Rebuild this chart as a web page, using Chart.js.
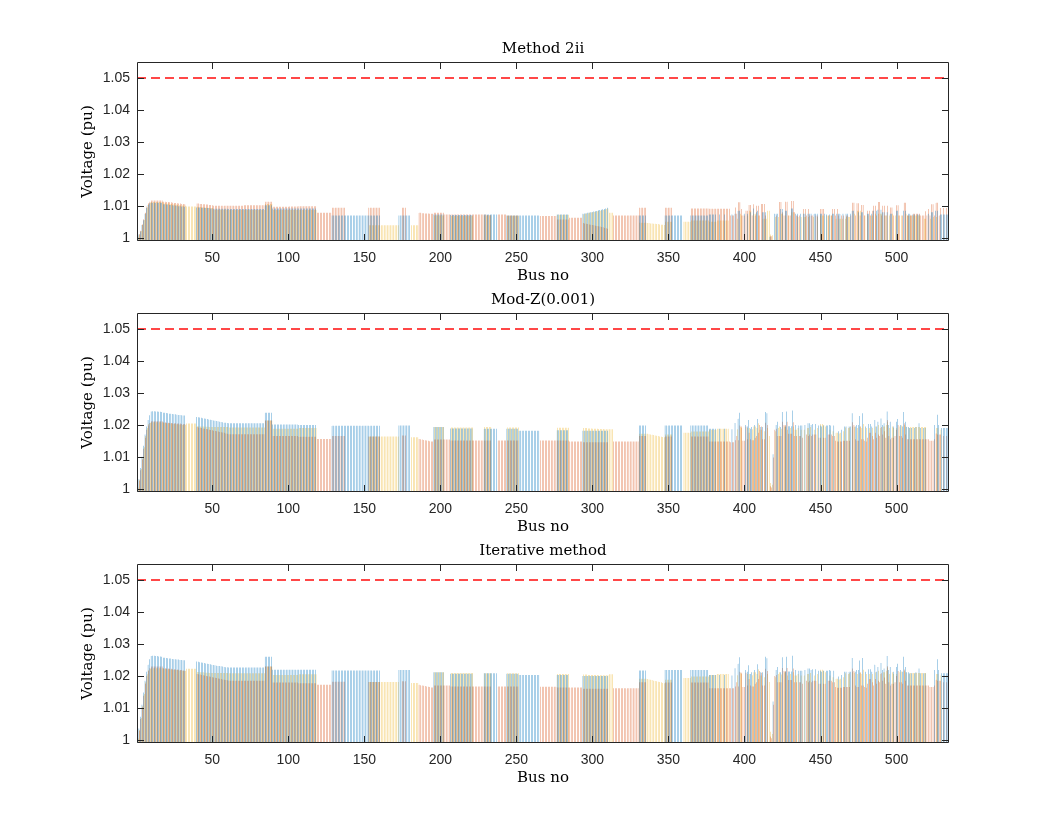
<!DOCTYPE html>
<html>
<head>
<meta charset="utf-8">
<script src="https://cdn.jsdelivr.net/npm/chart.js@4.4.1/dist/chart.umd.min.js"></script>
<style>
body{margin:0;background:#fff;width:1050px;height:835px;position:relative;overflow:hidden}
canvas{position:absolute;left:0}
</style>
</head>
<body>
<canvas id="P1" width="1050" height="270" style="top:22px"></canvas>
<canvas id="P2" width="1050" height="270" style="top:273px"></canvas>
<canvas id="P3" width="1050" height="270" style="top:524px"></canvas>
<script>
//												Data
const TITLES=['Method 2ii','Mod-Z(0.001)','Iterative method']
const X_TICKS=[50,100,150,200,250,300,350,400,450,500]
const Y_TICKS=[1,1.01,1.02,1.03,1.04,1.05]
const X_LIMITS=[0.5,534.5]
const Y_LIMITS=[0.999,1.055]
const V_LIMIT=1.05

// Method 2ii, phases a (blue) b (orange) c (yellow), one value per bus, 0 = phase absent
const M2_A=[
1.0003,1.0010,1.0020,1.0040,1.0055,1.0075,1.0093,1.0103,1.0108,1.0110,
1.0110,1.0110,1.0110,1.0110,1.0110,1.0110,1.0110,1.0105,1.0105,1.0104,
1.0104,1.0103,1.0103,1.0102,1.0101,1.0101,1.0100,1.0099,1.0099,1.0098,
1.0098,1.0097,0,0,0,0,0,0,0,1.0095,
1.0095,1.0095,1.0094,1.0094,1.0094,1.0093,1.0093,1.0093,1.0092,1.0092,
1.0091,1.0091,1.0091,1.0091,1.0091,1.0091,1.0091,1.0091,1.0091,1.0091,
1.0090,1.0090,1.0090,1.0090,1.0090,1.0090,1.0090,1.0090,1.0090,1.0090,
1.0090,1.0090,1.0090,1.0090,1.0090,1.0090,1.0090,1.0090,1.0090,1.0090,
1.0090,1.0090,1.0090,1.0090,1.0102,1.0102,1.0102,1.0102,1.0102,1.0092,
1.0092,1.0092,1.0092,1.0092,1.0092,1.0092,1.0092,1.0092,1.0092,1.0092,
1.0092,1.0092,1.0092,1.0092,1.0092,1.0092,1.0092,1.0092,1.0092,1.0092,
1.0092,1.0092,1.0092,1.0092,1.0092,1.0092,1.0092,1.0092,0,0,
0,0,0,0,0,0,0,0,1.0070,1.0070,
1.0070,1.0070,1.0070,1.0070,1.0070,1.0070,1.0070,1.0070,1.0070,1.0070,
1.0070,1.0070,1.0070,1.0070,1.0070,1.0070,1.0070,1.0070,1.0070,1.0070,
1.0070,1.0070,1.0070,1.0070,1.0070,1.0070,1.0070,1.0070,1.0070,1.0070,
0,0,0,0,0,0,0,0,0,0,
0,0,1.0070,1.0070,1.0070,1.0070,1.0070,1.0070,1.0070,1.0070,
0,0,0,0,0,0,0,0,0,0,
0,0,0,0,0,1.0073,1.0073,1.0073,1.0073,1.0073,
1.0073,1.0073,0,0,0,0,1.0071,1.0071,1.0071,1.0071,
1.0071,1.0071,1.0071,1.0071,1.0071,1.0071,1.0071,1.0071,1.0071,1.0071,
1.0071,0,0,0,0,0,0,0,1.0073,1.0073,
1.0073,1.0073,1.0073,1.0073,1.0073,1.0073,1.0073,0,0,0,
0,0,0,1.0070,1.0070,1.0070,1.0070,1.0070,1.0070,1.0070,
1.0070,1.0070,1.0070,1.0070,1.0070,1.0070,1.0070,1.0070,1.0070,1.0070,
1.0070,1.0070,1.0070,1.0070,1.0070,0,0,0,0,0,
0,0,0,0,0,0,1.0073,1.0073,1.0073,1.0073,
1.0073,1.0073,1.0073,1.0073,0,0,0,0,0,0,
0,0,0,1.0075,1.0076,1.0077,1.0078,1.0079,1.0080,1.0081,
1.0082,1.0083,1.0084,1.0086,1.0087,1.0088,1.0089,1.0090,1.0092,1.0094,
0,0,0,0,0,0,0,0,0,0,
0,0,0,0,0,0,0,0,0,0,
1.0070,1.0070,1.0070,1.0070,1.0070,0,0,0,0,0,
0,0,0,0,0,0,0,1.0070,1.0070,1.0070,
1.0070,1.0070,1.0070,1.0070,1.0070,1.0070,1.0070,1.0070,1.0070,0,
0,0,0,0,1.0070,1.0070,1.0070,1.0070,1.0070,1.0070,
1.0070,1.0070,1.0070,1.0070,1.0070,1.0070,1.0073,1.0073,1.0073,1.0073,
1.0073,0,0,1.0073,0,0,1.0073,0,0,0,
0,1.0073,0,1.0075,0,1.0085,1.0085,0,0,1.0075,
0,1.0075,0,1.0080,0,1.0092,0,1.0080,1.0085,0,
0,1.0080,1.0080,1.0080,0,0,1.0003,0,0,1.0075,
1.0075,1.0075,0,1.0090,1.0090,0,1.0085,1.0085,0,0,
1.0092,1.0092,0,1.0075,1.0075,0,1.0075,0,1.0075,1.0075,
0,1.0075,1.0075,1.0075,0,1.0075,1.0075,1.0075,0,1.0075,
1.0075,0,1.0075,1.0073,0,1.0073,0,1.0075,1.0075,0,
1.0075,1.0075,1.0075,0,1.0075,0,1.0075,1.0075,0,1.0075,
1.0085,1.0085,0,0,1.0080,0,1.0080,1.0080,0,0,
1.0075,1.0075,0,1.0075,1.0085,0,1.0085,1.0088,0,1.0088,
1.0080,1.0080,0,1.0080,0,1.0075,1.0075,0,0,1.0085,
1.0085,0,0,0,1.0085,1.0085,0,1.0075,1.0075,0,
1.0073,1.0073,0,1.0073,1.0073,0,0,0,0,0,
1.0075,0,1.0080,1.0080,0,1.0085,1.0085,0,1.0073,1.0073,
1.0073,1.0073,1.0073,1.0073]
const M2_B=[
1.0003,1.0011,1.0022,1.0042,1.0058,1.0078,1.0098,1.0108,1.0113,1.0117,
1.0117,1.0117,1.0117,1.0117,1.0117,1.0117,1.0117,1.0113,1.0113,1.0112,
1.0112,1.0111,1.0111,1.0110,1.0109,1.0109,1.0108,1.0107,1.0107,1.0106,
1.0106,1.0105,0,0,0,0,0,0,0,1.0107,
1.0107,1.0106,1.0106,1.0105,1.0105,1.0104,1.0104,1.0103,1.0103,1.0102,
1.0100,1.0100,1.0100,1.0100,1.0100,1.0100,1.0100,1.0100,1.0100,1.0100,
1.0100,1.0100,1.0100,1.0100,1.0100,1.0100,1.0100,1.0100,1.0100,1.0100,
1.0102,1.0102,1.0102,1.0102,1.0102,1.0102,1.0102,1.0102,1.0102,1.0102,
1.0102,1.0102,1.0102,1.0102,1.0113,1.0113,1.0113,1.0113,1.0113,1.0097,
1.0097,1.0097,1.0097,1.0097,1.0097,1.0097,1.0097,1.0097,1.0097,1.0097,
1.0098,1.0098,1.0098,1.0098,1.0098,1.0098,1.0099,1.0099,1.0099,1.0099,
1.0099,1.0099,1.0099,1.0099,1.0099,1.0099,1.0099,1.0099,1.0078,1.0078,
1.0078,1.0078,1.0078,1.0078,1.0078,1.0078,1.0078,1.0078,1.0094,1.0094,
1.0094,1.0094,1.0094,1.0094,1.0094,1.0094,1.0094,0,0,0,
0,0,0,0,0,0,0,0,0,0,
0,0,1.0094,1.0094,1.0094,1.0094,1.0094,1.0094,1.0094,1.0094,
0,0,0,0,0,0,0,0,0,0,
0,0,0,0,1.0094,1.0094,1.0094,0,0,0,
0,0,0,0,0,1.0078,1.0078,1.0077,1.0077,1.0076,
1.0076,1.0076,1.0075,1.0075,1.0075,1.0078,1.0078,1.0078,1.0078,1.0078,
1.0078,1.0078,1.0073,1.0073,1.0073,1.0073,1.0073,1.0073,1.0073,1.0073,
1.0073,1.0073,1.0073,1.0073,1.0073,1.0073,1.0073,1.0073,1.0073,1.0073,
1.0073,1.0073,1.0073,1.0073,1.0073,1.0073,1.0073,1.0073,1.0073,1.0073,
1.0071,1.0071,1.0071,0,0,0,0,1.0073,1.0073,1.0073,
1.0073,1.0073,1.0073,1.0070,1.0070,1.0070,1.0070,1.0070,1.0070,1.0070,
1.0070,0,0,0,0,0,0,0,0,0,
0,0,0,0,0,1.0068,1.0068,1.0068,1.0068,1.0068,
1.0068,1.0068,1.0068,1.0068,1.0068,1.0068,1.0057,1.0057,1.0057,1.0057,
1.0057,1.0057,1.0057,1.0057,1.0063,1.0063,1.0063,1.0063,1.0063,1.0063,
1.0063,1.0063,1.0063,1.0046,1.0045,1.0044,1.0043,1.0042,1.0041,1.0040,
1.0039,1.0038,1.0037,1.0036,1.0035,1.0034,1.0033,1.0031,1.0030,1.0028,
0,0,0,1.0070,1.0070,1.0070,1.0070,1.0070,1.0070,1.0070,
1.0070,1.0070,1.0070,1.0070,1.0070,1.0070,1.0070,1.0070,1.0070,1.0070,
1.0094,1.0094,1.0094,1.0094,1.0094,0,0,0,0,0,
0,0,0,0,0,0,0,1.0094,1.0094,1.0094,
1.0094,1.0094,0,0,0,0,0,0,0,0,
0,0,0,0,1.0092,1.0092,1.0092,1.0092,1.0092,1.0092,
1.0092,1.0092,1.0092,1.0092,1.0092,1.0092,1.0091,1.0091,1.0091,1.0091,
1.0091,1.0091,1.0091,1.0091,1.0091,1.0091,1.0091,1.0091,1.0091,1.0091,
1.0070,1.0070,1.0070,1.0095,1.0075,1.0111,1.0111,1.0090,1.0070,1.0070,
1.0085,1.0085,1.0103,1.0103,1.0070,1.0105,1.0070,1.0100,1.0100,1.0070,
1.0106,1.0106,1.0106,1.0070,0,0,1.0005,1.0005,0,0,
1.0070,0,1.0112,1.0112,1.0080,1.0070,1.0113,1.0113,1.0070,1.0070,
1.0115,1.0115,1.0080,1.0070,1.0070,1.0070,0,0,1.0090,1.0090,
1.0070,1.0090,1.0070,1.0070,1.0070,0,1.0070,1.0070,0,1.0090,
1.0090,1.0090,0,0,1.0070,0,1.0070,1.0090,1.0090,1.0070,
1.0090,1.0070,0,1.0070,1.0070,0,1.0070,1.0070,0,1.0070,
1.0110,1.0110,1.0070,1.0108,1.0108,1.0070,1.0103,1.0103,1.0070,0,
1.0085,1.0085,1.0070,1.0085,1.0100,1.0100,1.0070,1.0112,1.0112,1.0070,
1.0100,1.0100,1.0070,1.0100,0,1.0095,1.0095,1.0070,0,1.0102,
1.0102,1.0070,0,1.0070,1.0110,1.0110,1.0070,1.0070,1.0070,1.0070,
1.0075,1.0075,1.0075,1.0075,1.0075,1.0070,1.0070,1.0070,1.0083,1.0070,
1.0090,1.0070,1.0105,1.0105,1.0070,1.0110,1.0110,1.0070,1.0093,0,
1.0093,0,1.0093,0]
const M2_C=[
1.0003,1.0010,1.0021,1.0041,1.0056,1.0076,1.0095,1.0105,1.0110,1.0112,
1.0112,1.0112,1.0112,1.0112,1.0112,1.0112,1.0112,1.0108,1.0108,1.0107,
1.0107,1.0106,1.0106,1.0105,1.0104,1.0104,1.0103,1.0102,1.0102,1.0101,
1.0101,1.0100,1.0098,1.0098,1.0098,1.0098,1.0098,1.0098,1.0098,1.0097,
1.0097,1.0096,1.0096,1.0095,1.0095,1.0094,1.0094,1.0093,1.0093,1.0093,
1.0088,1.0088,1.0088,1.0088,1.0088,1.0088,1.0088,1.0088,1.0088,1.0088,
1.0087,1.0087,1.0087,1.0087,1.0087,1.0087,1.0087,1.0087,1.0087,1.0087,
1.0087,1.0087,1.0087,1.0087,1.0087,1.0087,1.0087,1.0087,1.0087,1.0087,
1.0087,1.0087,1.0087,1.0087,1.0106,1.0106,1.0106,1.0106,1.0106,1.0087,
1.0087,1.0087,1.0087,1.0087,1.0087,1.0087,1.0087,1.0087,1.0087,1.0087,
1.0087,1.0087,1.0087,1.0087,1.0087,1.0087,1.0087,1.0087,1.0087,1.0087,
1.0087,1.0087,1.0087,1.0087,1.0087,1.0087,1.0087,1.0087,0,0,
0,0,0,0,0,0,0,0,0,0,
0,0,0,0,0,0,0,0,0,0,
0,0,0,0,0,0,0,0,0,0,
0,0,1.0039,1.0039,1.0039,1.0039,1.0039,1.0039,1.0039,1.0039,
1.0039,1.0039,1.0039,1.0039,1.0039,1.0039,1.0039,1.0039,1.0039,1.0039,
1.0039,1.0039,0,0,0,0,0,0,0,0,
1.0039,1.0039,1.0039,1.0039,1.0039,0,0,0,0,0,
0,0,0,0,0,1.0070,1.0070,1.0070,1.0070,1.0070,
1.0070,1.0070,0,0,0,0,1.0068,1.0068,1.0068,1.0068,
1.0068,1.0068,1.0068,1.0068,1.0068,1.0068,1.0068,1.0068,1.0068,1.0068,
1.0068,0,0,0,0,0,0,0,1.0070,1.0070,
1.0070,1.0070,1.0070,0,0,0,0,0,0,0,
0,0,0,1.0069,1.0069,1.0069,1.0069,1.0069,1.0069,1.0069,
1.0069,0,0,0,0,0,0,0,0,0,
0,0,0,0,0,0,0,0,0,0,
0,0,0,0,0,0,1.0072,1.0072,1.0072,1.0072,
1.0072,1.0072,1.0072,1.0072,0,0,0,0,0,0,
0,0,0,1.0074,1.0075,1.0076,1.0077,1.0078,1.0079,1.0080,
1.0081,1.0082,1.0083,1.0084,1.0085,1.0086,1.0087,1.0088,1.0090,1.0092,
1.0078,1.0078,1.0078,0,0,0,0,0,0,0,
0,0,0,0,0,0,0,0,0,0,
1.0047,1.0047,1.0047,1.0047,1.0047,1.0046,1.0046,1.0045,1.0045,1.0044,
1.0044,1.0043,1.0043,1.0042,1.0041,1.0041,1.0040,1.0050,1.0050,1.0050,
1.0050,1.0050,0,0,0,0,0,0,0,1.0050,
1.0050,1.0050,1.0050,1.0050,1.0054,1.0054,1.0054,1.0054,1.0054,1.0054,
1.0054,1.0054,1.0054,1.0054,1.0054,1.0054,1.0050,1.0050,1.0050,1.0050,
1.0050,1.0054,1.0054,1.0054,1.0054,1.0054,1.0054,1.0054,1.0054,0,
0,0,0,0,1.0060,0,1.0075,1.0070,0,0,
0,1.0070,1.0085,1.0085,0,1.0075,1.0075,0,1.0070,0,
0,1.0060,1.0060,1.0060,1.0085,1.0085,1.0010,1.0008,0,1.0065,
0,1.0065,0,1.0075,1.0075,0,1.0070,0,1.0070,0,
1.0080,1.0080,0,0,1.0065,0,1.0065,0,1.0065,1.0065,
0,1.0065,0,0,1.0065,0,0,1.0065,0,1.0070,
1.0070,1.0070,0,1.0070,1.0070,1.0070,1.0070,0,0,1.0060,
0,1.0060,1.0060,1.0060,0,1.0060,1.0065,1.0065,1.0065,0,
0,1.0075,0,1.0085,1.0085,1.0085,0,0,1.0070,0,
1.0070,0,1.0070,1.0070,0,1.0075,0,1.0075,1.0075,1.0075,
0,1.0070,1.0070,0,1.0070,0,1.0075,0,1.0070,0,
1.0070,0,1.0070,0,0,1.0075,1.0070,1.0070,1.0070,1.0070,
1.0070,1.0070,1.0070,1.0070,1.0070,0,0,1.0060,1.0060,0,
0,1.0060,0,1.0065,0,1.0065,0,0,0,0,
0,0,0,0]

// Mod-Z(0.001)
const MZ_A=[
1.0005,1.0030,1.0065,1.0100,1.0135,1.0170,1.0195,1.0215,1.0230,1.0242,
1.0243,1.0243,1.0242,1.0242,1.0241,1.0241,1.0240,1.0238,1.0238,1.0237,
1.0236,1.0235,1.0235,1.0234,1.0233,1.0233,1.0232,1.0231,1.0231,1.0230,
1.0229,1.0229,0,0,0,0,0,0,0,1.0225,
1.0224,1.0223,1.0222,1.0221,1.0220,1.0219,1.0218,1.0217,1.0216,1.0215,
1.0214,1.0213,1.0212,1.0211,1.0210,1.0209,1.0208,1.0207,1.0207,1.0206,
1.0205,1.0205,1.0205,1.0205,1.0205,1.0205,1.0205,1.0205,1.0205,1.0205,
1.0205,1.0205,1.0205,1.0205,1.0205,1.0205,1.0205,1.0205,1.0205,1.0205,
1.0205,1.0205,1.0205,1.0205,1.0238,1.0238,1.0238,1.0238,1.0238,1.0201,
1.0201,1.0201,1.0201,1.0201,1.0201,1.0201,1.0201,1.0201,1.0201,1.0201,
1.0201,1.0201,1.0201,1.0201,1.0201,1.0201,1.0200,1.0200,1.0200,1.0200,
1.0200,1.0200,1.0200,1.0200,1.0200,1.0200,1.0200,1.0200,0,0,
0,0,0,0,0,0,0,0,1.0197,1.0197,
1.0197,1.0197,1.0197,1.0197,1.0197,1.0197,1.0197,1.0197,1.0197,1.0197,
1.0197,1.0197,1.0197,1.0197,1.0197,1.0197,1.0197,1.0197,1.0197,1.0197,
1.0197,1.0197,1.0197,1.0197,1.0197,1.0197,1.0197,1.0197,1.0197,1.0197,
0,0,0,0,0,0,0,0,0,0,
0,0,1.0198,1.0198,1.0198,1.0198,1.0198,1.0198,1.0198,1.0198,
0,0,0,0,0,0,0,0,0,0,
0,0,0,0,0,1.0193,1.0193,1.0193,1.0193,1.0193,
1.0193,1.0193,0,0,0,0,1.0189,1.0189,1.0189,1.0189,
1.0189,1.0189,1.0189,1.0189,1.0189,1.0189,1.0189,1.0189,1.0189,1.0189,
1.0189,0,0,0,0,0,0,0,1.0188,1.0188,
1.0188,1.0188,1.0188,1.0188,1.0188,1.0188,1.0188,0,0,0,
0,0,0,1.0188,1.0188,1.0188,1.0188,1.0188,1.0188,1.0188,
1.0188,1.0182,1.0182,1.0182,1.0182,1.0182,1.0182,1.0182,1.0182,1.0182,
1.0182,1.0182,1.0182,1.0182,1.0182,0,0,0,0,0,
0,0,0,0,0,0,1.0183,1.0183,1.0183,1.0183,
1.0183,1.0183,1.0183,1.0183,0,0,0,0,0,0,
0,0,0,1.0182,1.0182,1.0182,1.0182,1.0182,1.0182,1.0182,
1.0182,1.0182,1.0182,1.0182,1.0182,1.0182,1.0182,1.0182,1.0182,1.0182,
0,0,0,0,0,0,0,0,0,0,
0,0,0,0,0,0,0,0,0,0,
1.0198,1.0198,1.0198,1.0198,1.0198,0,0,0,0,0,
0,0,0,0,0,0,0,1.0198,1.0198,1.0198,
1.0198,1.0198,1.0198,1.0198,1.0198,1.0198,1.0198,1.0198,1.0198,0,
0,0,0,0,1.0198,1.0198,1.0198,1.0198,1.0198,1.0198,
1.0198,1.0198,1.0198,1.0198,1.0198,1.0198,1.0188,1.0188,1.0188,1.0188,
1.0188,0,0,1.0188,0,0,1.0188,0,0,0,
0,1.0186,0,1.0206,0,1.0219,1.0238,0,0,0,
1.0200,1.0195,1.0215,1.0188,1.0193,0,1.0200,0,1.0218,0,
1.0193,1.0193,0,1.0240,1.0236,0,0,0,1.0108,0,
1.0200,1.0210,0,1.0193,1.0240,0,1.0195,1.0242,1.0196,1.0196,
1.0196,1.0245,0,1.0200,0,1.0198,1.0198,1.0198,0,1.0200,
0,1.0205,1.0205,1.0200,1.0203,0,1.0203,0,1.0198,1.0198,
1.0195,1.0198,0,1.0198,1.0198,1.0200,1.0198,0,1.0198,0,
0,1.0180,0,1.0185,0,1.0195,1.0195,0,1.0195,1.0195,
1.0236,0,1.0195,1.0200,1.0200,1.0228,0,1.0236,0,1.0195,
0,1.0203,1.0203,1.0195,0,1.0215,1.0195,1.0210,0,1.0220,
1.0200,1.0205,0,1.0242,1.0200,1.0210,0,1.0195,0,1.0210,
1.0218,0,1.0200,1.0195,1.0240,1.0210,1.0193,1.0193,1.0190,1.0190,
0,1.0190,1.0193,0,1.0205,1.0190,0,1.0190,1.0190,0,
0,0,0,0,1.0200,0,1.0232,1.0200,0,1.0190,
1.0190,1.0190,1.0190,1.0190]
const MZ_B=[
1.0003,1.0025,1.0058,1.0092,1.0125,1.0160,1.0185,1.0198,1.0206,1.0211,
1.0211,1.0211,1.0211,1.0211,1.0211,1.0211,1.0211,1.0208,1.0208,1.0207,
1.0207,1.0206,1.0206,1.0205,1.0205,1.0205,1.0204,1.0204,1.0204,1.0203,
1.0203,1.0203,0,0,0,0,0,0,0,1.0193,
1.0192,1.0191,1.0190,1.0189,1.0188,1.0187,1.0186,1.0185,1.0184,1.0183,
1.0182,1.0181,1.0180,1.0179,1.0178,1.0177,1.0176,1.0175,1.0173,1.0172,
1.0171,1.0171,1.0171,1.0171,1.0171,1.0171,1.0171,1.0171,1.0171,1.0171,
1.0171,1.0171,1.0171,1.0171,1.0171,1.0171,1.0171,1.0171,1.0171,1.0171,
1.0171,1.0171,1.0171,1.0171,1.0214,1.0214,1.0214,1.0214,1.0214,1.0165,
1.0165,1.0165,1.0165,1.0165,1.0165,1.0165,1.0165,1.0165,1.0165,1.0165,
1.0165,1.0165,1.0165,1.0165,1.0165,1.0165,1.0163,1.0163,1.0163,1.0163,
1.0163,1.0163,1.0163,1.0163,1.0163,1.0163,1.0163,1.0163,1.0156,1.0156,
1.0156,1.0156,1.0156,1.0156,1.0156,1.0156,1.0156,1.0156,1.0165,1.0165,
1.0165,1.0165,1.0165,1.0165,1.0165,1.0165,1.0165,0,0,0,
0,0,0,0,0,0,0,0,0,0,
0,0,1.0164,1.0164,1.0164,1.0164,1.0164,1.0164,1.0164,1.0164,
0,0,0,0,0,0,0,0,0,0,
0,0,0,0,1.0167,1.0167,1.0167,0,0,0,
0,0,0,0,0,1.0156,1.0155,1.0154,1.0153,1.0152,
1.0151,1.0150,1.0149,1.0148,1.0148,1.0154,1.0154,1.0154,1.0154,1.0154,
1.0154,1.0154,1.0154,1.0154,1.0154,1.0154,1.0151,1.0151,1.0151,1.0151,
1.0151,1.0151,1.0151,1.0151,1.0151,1.0151,1.0151,1.0151,1.0151,1.0151,
1.0151,1.0151,1.0151,1.0151,1.0151,1.0151,1.0151,1.0151,1.0151,1.0151,
1.0151,1.0151,1.0151,0,0,0,0,1.0151,1.0151,1.0151,
1.0151,1.0151,1.0151,1.0151,1.0151,1.0151,1.0151,1.0151,1.0151,1.0151,
1.0151,0,0,0,0,0,0,0,0,0,
0,0,0,0,0,1.0151,1.0151,1.0151,1.0151,1.0151,
1.0151,1.0151,1.0151,1.0151,1.0151,1.0151,1.0151,1.0151,1.0151,1.0151,
1.0151,1.0151,1.0151,1.0151,1.0148,1.0148,1.0148,1.0148,1.0148,1.0148,
1.0148,1.0148,1.0148,1.0146,1.0146,1.0146,1.0146,1.0146,1.0146,1.0146,
1.0146,1.0146,1.0146,1.0146,1.0146,1.0146,1.0146,1.0146,1.0146,1.0146,
0,0,0,1.0148,1.0148,1.0148,1.0148,1.0148,1.0148,1.0148,
1.0148,1.0148,1.0148,1.0148,1.0148,1.0148,1.0148,1.0148,1.0148,1.0148,
1.0165,1.0165,1.0165,1.0165,1.0165,0,0,0,0,0,
0,0,0,0,0,0,0,1.0164,1.0164,1.0164,
1.0164,1.0164,0,0,0,0,0,0,0,0,
0,0,0,0,1.0164,1.0164,1.0164,1.0164,1.0164,1.0164,
1.0164,1.0164,1.0164,1.0164,1.0164,1.0164,1.0148,1.0148,1.0148,1.0148,
1.0148,1.0148,1.0148,1.0148,1.0148,1.0148,1.0148,1.0148,1.0148,1.0148,
1.0146,1.0146,1.0146,1.0152,1.0165,1.0152,1.0198,1.0195,1.0150,1.0150,
1.0195,1.0155,1.0175,1.0155,1.0152,1.0152,1.0160,1.0165,1.0175,1.0200,
1.0195,1.0155,1.0155,1.0207,1.0200,0,1.0008,1.0004,1.0098,1.0185,
1.0188,1.0165,1.0165,1.0165,1.0210,1.0200,1.0200,1.0210,1.0172,1.0172,
1.0172,1.0208,1.0165,1.0165,0,1.0165,1.0165,1.0160,0,0,
1.0170,1.0165,1.0170,1.0165,1.0170,1.0170,1.0170,0,1.0160,1.0160,
0,1.0160,1.0160,0,1.0170,1.0170,1.0170,1.0165,1.0165,1.0150,
1.0148,1.0148,1.0148,1.0148,1.0150,1.0150,1.0150,1.0150,1.0150,0,
1.0208,1.0200,1.0155,1.0150,1.0150,1.0195,1.0155,1.0155,1.0150,1.0148,
1.0160,1.0175,1.0175,1.0165,1.0155,1.0175,1.0160,1.0170,1.0165,1.0193,
1.0170,1.0180,1.0160,1.0215,1.0165,1.0155,1.0160,1.0160,1.0165,1.0185,
1.0200,1.0165,1.0165,1.0160,1.0205,1.0170,1.0155,1.0155,1.0155,1.0155,
1.0155,1.0155,1.0155,1.0155,1.0155,1.0155,1.0155,1.0155,1.0155,1.0155,
1.0155,1.0150,1.0150,1.0150,1.0155,1.0173,1.0170,1.0170,1.0170,0,
1.0165,0,1.0165,0]
const MZ_C=[
1.0004,1.0028,1.0062,1.0095,1.0130,1.0165,1.0190,1.0203,1.0207,1.0208,
1.0208,1.0208,1.0208,1.0208,1.0208,1.0208,1.0208,1.0206,1.0206,1.0205,
1.0205,1.0204,1.0204,1.0203,1.0203,1.0202,1.0202,1.0201,1.0201,1.0200,
1.0200,1.0200,1.0204,1.0204,1.0204,1.0204,1.0204,1.0204,1.0204,1.0196,
1.0196,1.0195,1.0195,1.0195,1.0194,1.0194,1.0194,1.0193,1.0193,1.0193,
1.0193,1.0193,1.0193,1.0193,1.0193,1.0193,1.0193,1.0193,1.0193,1.0193,
1.0192,1.0192,1.0192,1.0192,1.0192,1.0192,1.0192,1.0192,1.0192,1.0192,
1.0192,1.0192,1.0192,1.0192,1.0192,1.0192,1.0192,1.0192,1.0192,1.0192,
1.0192,1.0192,1.0192,1.0192,1.0214,1.0214,1.0214,1.0214,1.0214,1.0188,
1.0188,1.0188,1.0188,1.0188,1.0188,1.0188,1.0188,1.0188,1.0188,1.0188,
1.0188,1.0188,1.0188,1.0188,1.0188,1.0188,1.0190,1.0190,1.0190,1.0190,
1.0190,1.0190,1.0190,1.0190,1.0190,1.0190,1.0190,1.0190,0,0,
0,0,0,0,0,0,0,0,0,0,
0,0,0,0,0,0,0,0,0,0,
0,0,0,0,0,0,0,0,0,0,
0,0,1.0164,1.0164,1.0164,1.0164,1.0164,1.0164,1.0164,1.0164,
1.0164,1.0164,1.0164,1.0164,1.0164,1.0164,1.0164,1.0164,1.0164,1.0164,
1.0164,1.0164,0,0,0,0,0,0,0,0,
1.0161,1.0161,1.0161,1.0161,1.0161,0,0,0,0,0,
0,0,0,0,0,1.0193,1.0193,1.0193,1.0193,1.0193,
1.0193,1.0193,0,0,0,0,1.0192,1.0192,1.0192,1.0192,
1.0192,1.0192,1.0192,1.0192,1.0192,1.0192,1.0192,1.0192,1.0192,1.0192,
1.0192,0,0,0,0,0,0,0,1.0193,1.0193,
1.0193,1.0193,1.0193,0,0,0,0,0,0,0,
0,0,0,1.0192,1.0192,1.0192,1.0192,1.0192,1.0192,1.0192,
1.0192,0,0,0,0,0,0,0,0,0,
0,0,0,0,0,0,0,0,0,0,
0,0,0,0,0,0,1.0191,1.0191,1.0191,1.0191,
1.0191,1.0191,1.0191,1.0191,0,0,0,0,0,0,
0,0,0,1.0190,1.0190,1.0190,1.0189,1.0189,1.0189,1.0188,
1.0188,1.0188,1.0188,1.0187,1.0187,1.0187,1.0187,1.0186,1.0186,1.0186,
1.0186,1.0186,1.0186,0,0,0,0,0,0,0,
0,0,0,0,0,0,0,0,0,0,
1.0172,1.0172,1.0172,1.0172,1.0172,1.0172,1.0171,1.0170,1.0169,1.0168,
1.0167,1.0166,1.0165,1.0164,1.0163,1.0162,1.0161,1.0170,1.0170,1.0170,
1.0170,1.0170,0,0,0,0,0,0,0,1.0175,
1.0175,1.0175,1.0175,1.0175,1.0179,1.0179,1.0179,1.0179,1.0179,1.0179,
1.0179,1.0179,1.0179,1.0179,1.0179,1.0179,1.0185,1.0185,1.0185,1.0185,
1.0185,1.0188,1.0188,1.0188,1.0188,1.0188,1.0188,1.0188,1.0188,0,
0,0,0,0,1.0186,0,1.0194,1.0190,0,0,
0,1.0190,1.0190,0,1.0186,1.0195,1.0195,1.0190,1.0205,1.0185,
1.0185,0,1.0180,0,1.0190,1.0165,1.0018,1.0013,0,1.0180,
0,1.0190,1.0195,1.0188,0,1.0195,1.0195,1.0185,0,1.0190,
0,1.0195,1.0185,1.0185,1.0190,0,1.0185,0,1.0185,0,
1.0190,1.0190,1.0193,0,0,1.0185,0,1.0190,0,1.0203,
1.0203,1.0200,1.0195,0,0,1.0185,0,1.0180,0,1.0175,
1.0175,1.0173,1.0175,0,1.0180,1.0192,0,1.0190,1.0192,0,
1.0195,1.0194,0,1.0190,0,1.0195,1.0190,1.0203,0,1.0190,
0,1.0190,0,1.0190,0,1.0195,0,1.0200,1.0190,0,
1.0195,1.0195,1.0200,1.0210,1.0190,0,1.0195,1.0190,0,1.0190,
0,1.0195,1.0198,0,1.0200,1.0195,0,1.0190,1.0193,1.0193,
1.0193,1.0193,1.0193,1.0193,1.0193,1.0193,1.0193,1.0193,1.0193,0,
0,0,0,0,0,1.0190,1.0190,0,1.0185,0,
0,0,0,0]

// Iterative method
const IT_A=[
1.0005,1.0035,1.0072,1.0110,1.0148,1.0185,1.0213,1.0235,1.0252,1.0262,
1.0263,1.0263,1.0262,1.0262,1.0261,1.0261,1.0260,1.0257,1.0257,1.0256,
1.0255,1.0254,1.0254,1.0253,1.0252,1.0252,1.0251,1.0251,1.0250,1.0250,
1.0249,1.0249,0,0,0,0,0,0,0,1.0245,
1.0244,1.0243,1.0242,1.0241,1.0240,1.0239,1.0238,1.0237,1.0236,1.0235,
1.0234,1.0233,1.0232,1.0231,1.0231,1.0230,1.0229,1.0228,1.0227,1.0227,
1.0226,1.0226,1.0226,1.0226,1.0226,1.0226,1.0226,1.0226,1.0226,1.0226,
1.0226,1.0226,1.0226,1.0226,1.0226,1.0226,1.0226,1.0226,1.0226,1.0226,
1.0226,1.0226,1.0226,1.0226,1.0260,1.0260,1.0260,1.0260,1.0260,1.0219,
1.0219,1.0219,1.0219,1.0219,1.0219,1.0219,1.0219,1.0219,1.0219,1.0219,
1.0219,1.0219,1.0219,1.0219,1.0219,1.0219,1.0219,1.0219,1.0219,1.0219,
1.0219,1.0219,1.0219,1.0219,1.0219,1.0219,1.0219,1.0219,0,0,
0,0,0,0,0,0,0,0,1.0217,1.0217,
1.0217,1.0217,1.0217,1.0217,1.0217,1.0217,1.0217,1.0217,1.0217,1.0217,
1.0217,1.0217,1.0217,1.0217,1.0217,1.0217,1.0217,1.0217,1.0217,1.0217,
1.0217,1.0217,1.0217,1.0217,1.0217,1.0217,1.0217,1.0217,1.0217,1.0217,
0,0,0,0,0,0,0,0,0,0,
0,0,1.0218,1.0218,1.0218,1.0218,1.0218,1.0218,1.0218,1.0218,
0,0,0,0,0,0,0,0,0,0,
0,0,0,0,0,1.0211,1.0211,1.0211,1.0211,1.0211,
1.0211,1.0211,0,0,0,0,1.0207,1.0207,1.0207,1.0207,
1.0207,1.0207,1.0207,1.0207,1.0207,1.0207,1.0207,1.0207,1.0207,1.0207,
1.0207,0,0,0,0,0,0,0,1.0208,1.0208,
1.0208,1.0208,1.0208,1.0208,1.0208,1.0208,1.0208,0,0,0,
0,0,0,1.0207,1.0207,1.0207,1.0207,1.0207,1.0207,1.0207,
1.0207,1.0203,1.0203,1.0203,1.0203,1.0203,1.0203,1.0203,1.0203,1.0203,
1.0203,1.0203,1.0203,1.0203,1.0203,0,0,0,0,0,
0,0,0,0,0,0,1.0203,1.0203,1.0203,1.0203,
1.0203,1.0203,1.0203,1.0203,0,0,0,0,0,0,
0,0,0,1.0200,1.0200,1.0200,1.0200,1.0200,1.0200,1.0200,
1.0200,1.0200,1.0200,1.0200,1.0200,1.0200,1.0200,1.0200,1.0200,1.0200,
0,0,0,0,0,0,0,0,0,0,
0,0,0,0,0,0,0,0,0,0,
1.0217,1.0217,1.0217,1.0217,1.0217,0,0,0,0,0,
0,0,0,0,0,0,0,1.0218,1.0218,1.0218,
1.0218,1.0218,1.0218,1.0218,1.0218,1.0218,1.0218,1.0218,1.0218,0,
0,0,0,0,1.0218,1.0218,1.0218,1.0218,1.0218,1.0218,
1.0218,1.0218,1.0218,1.0218,1.0218,1.0218,1.0203,1.0203,1.0203,1.0203,
1.0203,0,0,1.0203,0,0,1.0203,0,0,0,
0,1.0201,0,1.0224,0,1.0238,1.0258,0,0,0,
1.0218,1.0213,1.0233,1.0206,1.0211,0,1.0218,0,1.0236,0,
1.0211,1.0211,0,1.0260,1.0255,0,0,0,1.0120,0,
1.0218,1.0228,0,1.0211,1.0258,0,1.0213,1.0260,1.0214,1.0214,
1.0214,1.0263,0,1.0218,0,1.0216,1.0216,1.0216,0,1.0218,
0,1.0223,1.0223,1.0218,1.0221,0,1.0221,0,1.0216,1.0216,
1.0213,1.0216,0,1.0216,1.0216,1.0218,1.0216,0,1.0216,0,
0,1.0198,0,1.0203,0,1.0213,1.0213,0,1.0213,1.0213,
1.0256,0,1.0213,1.0218,1.0218,1.0248,0,1.0256,0,1.0213,
0,1.0221,1.0221,1.0213,0,1.0235,1.0213,1.0228,0,1.0240,
1.0218,1.0223,0,1.0262,1.0218,1.0228,0,1.0213,0,1.0228,
1.0238,0,1.0218,1.0213,1.0260,1.0228,1.0211,1.0211,1.0208,1.0208,
0,1.0208,1.0211,0,1.0223,1.0208,0,1.0208,1.0208,0,
0,0,0,0,1.0218,0,1.0252,1.0218,0,1.0208,
1.0208,1.0208,1.0208,1.0208]
const IT_B=[
1.0003,1.0028,1.0065,1.0102,1.0138,1.0175,1.0200,1.0215,1.0224,1.0229,
1.0229,1.0229,1.0229,1.0229,1.0229,1.0229,1.0229,1.0224,1.0224,1.0223,
1.0223,1.0222,1.0222,1.0221,1.0221,1.0220,1.0220,1.0219,1.0218,1.0218,
1.0217,1.0216,0,0,0,0,0,0,0,1.0206,
1.0205,1.0204,1.0203,1.0202,1.0201,1.0200,1.0199,1.0198,1.0197,1.0196,
1.0195,1.0194,1.0193,1.0192,1.0191,1.0190,1.0189,1.0188,1.0187,1.0186,
1.0185,1.0185,1.0185,1.0185,1.0185,1.0185,1.0185,1.0185,1.0185,1.0185,
1.0185,1.0185,1.0185,1.0185,1.0185,1.0185,1.0185,1.0185,1.0185,1.0185,
1.0185,1.0185,1.0185,1.0185,1.0229,1.0229,1.0229,1.0229,1.0229,1.0179,
1.0179,1.0179,1.0179,1.0179,1.0179,1.0179,1.0179,1.0179,1.0179,1.0179,
1.0179,1.0179,1.0179,1.0179,1.0179,1.0179,1.0177,1.0177,1.0177,1.0177,
1.0177,1.0177,1.0177,1.0177,1.0177,1.0177,1.0177,1.0177,1.0172,1.0172,
1.0172,1.0172,1.0172,1.0172,1.0172,1.0172,1.0172,1.0172,1.0182,1.0182,
1.0182,1.0182,1.0182,1.0182,1.0182,1.0182,1.0182,0,0,0,
0,0,0,0,0,0,0,0,0,0,
0,0,1.0181,1.0181,1.0181,1.0181,1.0181,1.0181,1.0181,1.0181,
0,0,0,0,0,0,0,0,0,0,
0,0,0,0,1.0183,1.0183,1.0183,0,0,0,
0,0,0,0,0,1.0172,1.0171,1.0170,1.0169,1.0168,
1.0167,1.0166,1.0165,1.0164,1.0164,1.0170,1.0170,1.0170,1.0170,1.0170,
1.0170,1.0170,1.0170,1.0170,1.0170,1.0170,1.0167,1.0167,1.0167,1.0167,
1.0167,1.0167,1.0167,1.0167,1.0167,1.0167,1.0167,1.0167,1.0167,1.0167,
1.0167,1.0167,1.0167,1.0167,1.0167,1.0167,1.0167,1.0167,1.0167,1.0167,
1.0167,1.0167,1.0167,0,0,0,0,1.0167,1.0167,1.0167,
1.0167,1.0167,1.0167,1.0167,1.0167,1.0167,1.0167,1.0167,1.0167,1.0167,
1.0167,0,0,0,0,0,0,0,0,0,
0,0,0,0,0,1.0166,1.0166,1.0166,1.0166,1.0166,
1.0166,1.0166,1.0166,1.0166,1.0166,1.0166,1.0164,1.0164,1.0164,1.0164,
1.0164,1.0164,1.0164,1.0164,1.0164,1.0164,1.0164,1.0164,1.0164,1.0164,
1.0164,1.0164,1.0164,1.0160,1.0160,1.0160,1.0160,1.0160,1.0160,1.0160,
1.0160,1.0160,1.0160,1.0160,1.0160,1.0160,1.0160,1.0160,1.0160,1.0160,
0,0,0,1.0161,1.0161,1.0161,1.0161,1.0161,1.0161,1.0161,
1.0161,1.0161,1.0161,1.0161,1.0161,1.0161,1.0161,1.0161,1.0161,1.0161,
1.0180,1.0180,1.0180,1.0180,1.0180,0,0,0,0,0,
0,0,0,0,0,0,0,1.0179,1.0179,1.0179,
1.0179,1.0179,0,0,0,0,0,0,0,0,
0,0,0,0,1.0179,1.0179,1.0179,1.0179,1.0179,1.0179,
1.0179,1.0179,1.0179,1.0179,1.0179,1.0179,1.0161,1.0161,1.0161,1.0161,
1.0161,1.0161,1.0161,1.0161,1.0161,1.0161,1.0161,1.0161,1.0161,1.0161,
1.0161,1.0161,1.0161,1.0167,1.0180,1.0167,1.0213,1.0210,1.0165,1.0165,
1.0210,1.0170,1.0190,1.0170,1.0167,1.0167,1.0175,1.0180,1.0190,1.0215,
1.0210,1.0170,1.0170,1.0222,1.0215,0,1.0010,1.0005,1.0110,1.0200,
1.0203,1.0180,1.0180,1.0180,1.0225,1.0215,1.0215,1.0225,1.0187,1.0187,
1.0187,1.0223,1.0180,1.0180,0,1.0180,1.0180,1.0175,0,0,
1.0185,1.0180,1.0185,1.0180,1.0185,1.0185,1.0185,0,1.0175,1.0175,
0,1.0175,1.0175,0,1.0185,1.0185,1.0185,1.0180,1.0180,1.0165,
1.0163,1.0163,1.0163,1.0163,1.0165,1.0165,1.0165,1.0165,1.0165,0,
1.0223,1.0215,1.0170,1.0165,1.0165,1.0210,1.0170,1.0170,1.0165,1.0163,
1.0175,1.0190,1.0190,1.0180,1.0170,1.0190,1.0175,1.0185,1.0180,1.0208,
1.0185,1.0195,1.0175,1.0230,1.0180,1.0170,1.0175,1.0175,1.0180,1.0200,
1.0215,1.0180,1.0180,1.0175,1.0220,1.0185,1.0170,1.0170,1.0170,1.0170,
1.0170,1.0170,1.0170,1.0170,1.0170,1.0170,1.0170,1.0170,1.0170,1.0170,
1.0170,1.0165,1.0165,1.0165,1.0170,1.0188,1.0185,1.0185,1.0185,0,
1.0180,0,1.0180,0]
const IT_C=[
1.0004,1.0031,1.0068,1.0105,1.0143,1.0180,1.0205,1.0218,1.0222,1.0224,
1.0224,1.0224,1.0224,1.0224,1.0224,1.0224,1.0224,1.0222,1.0222,1.0221,
1.0221,1.0220,1.0220,1.0219,1.0219,1.0218,1.0218,1.0217,1.0217,1.0216,
1.0216,1.0216,1.0222,1.0222,1.0222,1.0222,1.0222,1.0222,1.0222,1.0212,
1.0212,1.0211,1.0211,1.0211,1.0210,1.0210,1.0210,1.0209,1.0209,1.0209,
1.0209,1.0209,1.0209,1.0209,1.0209,1.0209,1.0209,1.0209,1.0209,1.0209,
1.0208,1.0208,1.0208,1.0208,1.0208,1.0208,1.0208,1.0208,1.0208,1.0208,
1.0208,1.0208,1.0208,1.0208,1.0208,1.0208,1.0208,1.0208,1.0208,1.0208,
1.0208,1.0208,1.0208,1.0208,1.0229,1.0229,1.0229,1.0229,1.0229,1.0203,
1.0203,1.0203,1.0203,1.0203,1.0203,1.0203,1.0203,1.0203,1.0203,1.0203,
1.0203,1.0203,1.0203,1.0203,1.0203,1.0203,1.0205,1.0205,1.0205,1.0205,
1.0205,1.0205,1.0205,1.0205,1.0205,1.0205,1.0205,1.0205,0,0,
0,0,0,0,0,0,0,0,0,0,
0,0,0,0,0,0,0,0,0,0,
0,0,0,0,0,0,0,0,0,0,
0,0,1.0181,1.0181,1.0181,1.0181,1.0181,1.0181,1.0181,1.0181,
1.0181,1.0181,1.0181,1.0181,1.0181,1.0181,1.0181,1.0181,1.0181,1.0181,
1.0181,1.0181,0,0,0,0,0,0,0,0,
1.0178,1.0178,1.0178,1.0178,1.0178,0,0,0,0,0,
0,0,0,0,0,1.0211,1.0211,1.0211,1.0211,1.0211,
1.0211,1.0211,0,0,0,0,1.0209,1.0209,1.0209,1.0209,
1.0209,1.0209,1.0209,1.0209,1.0209,1.0209,1.0209,1.0209,1.0209,1.0209,
1.0209,0,0,0,0,0,0,0,1.0208,1.0208,
1.0208,1.0208,1.0208,0,0,0,0,0,0,0,
0,0,0,1.0208,1.0208,1.0208,1.0208,1.0208,1.0208,1.0208,
1.0208,0,0,0,0,0,0,0,0,0,
0,0,0,0,0,0,0,0,0,0,
0,0,0,0,0,0,1.0206,1.0206,1.0206,1.0206,
1.0206,1.0206,1.0206,1.0206,0,0,0,0,0,0,
0,0,0,1.0204,1.0204,1.0204,1.0203,1.0203,1.0203,1.0203,
1.0203,1.0203,1.0203,1.0202,1.0202,1.0202,1.0202,1.0202,1.0202,1.0202,
1.0205,1.0205,1.0205,0,0,0,0,0,0,0,
0,0,0,0,0,0,0,0,0,0,
1.0191,1.0191,1.0191,1.0191,1.0191,1.0190,1.0189,1.0188,1.0187,1.0185,
1.0184,1.0183,1.0182,1.0181,1.0180,1.0178,1.0177,1.0188,1.0188,1.0188,
1.0188,1.0188,0,0,0,0,0,0,0,1.0193,
1.0193,1.0193,1.0193,1.0193,1.0198,1.0198,1.0198,1.0198,1.0198,1.0198,
1.0198,1.0198,1.0198,1.0198,1.0198,1.0198,1.0203,1.0203,1.0203,1.0203,
1.0203,1.0206,1.0206,1.0206,1.0206,1.0206,1.0206,1.0206,1.0206,0,
0,0,0,0,1.0202,0,1.0210,1.0206,0,0,
0,1.0206,1.0206,0,1.0202,1.0211,1.0211,1.0206,1.0221,1.0201,
1.0201,0,1.0196,0,1.0206,1.0181,1.0025,1.0018,0,1.0196,
0,1.0206,1.0211,1.0204,0,1.0211,1.0211,1.0201,0,1.0206,
0,1.0211,1.0201,1.0201,1.0206,0,1.0201,0,1.0201,0,
1.0206,1.0206,1.0209,0,0,1.0201,0,1.0206,0,1.0219,
1.0219,1.0216,1.0211,0,0,1.0201,0,1.0196,0,1.0191,
1.0191,1.0189,1.0191,0,1.0196,1.0208,0,1.0206,1.0208,0,
1.0211,1.0210,0,1.0206,0,1.0211,1.0206,1.0219,0,1.0206,
0,1.0206,0,1.0206,0,1.0211,0,1.0216,1.0206,0,
1.0211,1.0211,1.0216,1.0226,1.0206,0,1.0211,1.0206,0,1.0206,
0,1.0211,1.0214,0,1.0216,1.0211,0,1.0206,1.0209,1.0209,
1.0209,1.0209,1.0209,1.0209,1.0209,1.0209,1.0209,1.0209,1.0209,0,
0,0,0,0,0,1.0206,1.0206,0,1.0201,0,
0,0,0,0]

const PANELS=[[M2_A,M2_B,M2_C],[MZ_A,MZ_B,MZ_C],[IT_A,IT_B,IT_C]]

//												Style
// default MATLAB colour order; bars are grouped and thinner than a pixel, so they read pale
const PHASE_COLOURS=['rgb(0,114,189)','rgb(217,83,25)','rgb(237,177,32)']
const AXIS_COLOUR='#262626'
const SERIF='"DejaVu Serif", serif'
const SANS='"Liberation Sans", Arial, sans-serif'

//												Helper Functions
function Points(arr){return arr.map((v,i)=>({x:i+1,y:v}))}
function YLabel(v){return v===1?'1':v.toFixed(2)}

// MATLAB style box with ticks pointing inwards
const insideTicksPlugin={
	id:'insideTicks',
	afterDraw(chart){
		const {ctx,chartArea:a,scales:{x,y}}=chart
		const L=7
		ctx.save();ctx.strokeStyle=AXIS_COLOUR;ctx.lineWidth=1;ctx.beginPath()
		ctx.rect(Math.round(a.left)+0.5,Math.round(a.top)+0.5,Math.round(a.right-a.left)-1,Math.round(a.bottom-a.top)-1)
		x.ticks.forEach(t=>{const p=Math.round(x.getPixelForValue(t.value))+0.5;ctx.moveTo(p,a.bottom);ctx.lineTo(p,a.bottom-L);ctx.moveTo(p,a.top);ctx.lineTo(p,a.top+L)})
		y.ticks.forEach(t=>{const p=Math.round(y.getPixelForValue(t.value))+0.5;ctx.moveTo(a.left,p);ctx.lineTo(a.left+L,p);ctx.moveTo(a.right,p);ctx.lineTo(a.right-L,p)})
		ctx.stroke();ctx.restore()
	}
}

//												Chart
function LoadPanel(id,title,phases){
	return new Chart(document.getElementById(id),{
		type:'bar',
		plugins:[insideTicksPlugin],
		data:{
			datasets:[
				...phases.map((p,k)=>({
					type:'bar',data:Points(p),backgroundColor:PHASE_COLOURS[k],borderWidth:0,
					barPercentage:1,categoryPercentage:0.667,inflateAmount:0,order:1
				})),
				{type:'line',data:[{x:X_LIMITS[0],y:V_LIMIT},{x:X_LIMITS[1],y:V_LIMIT}],
					borderColor:'rgba(255,0,0,0.72)',borderWidth:2,borderDash:[9,5],pointRadius:0,order:0}
			]
		},
		options:{
			responsive:false,animation:false,events:[],
			layout:{padding:{top:18,left:77,right:101,bottom:6}},
			plugins:{
				legend:{display:false},tooltip:{enabled:false},
				title:{display:true,text:title,fullSize:false,color:'#000',
					font:{family:SERIF,size:15,weight:'normal'},padding:{top:0,bottom:4}}
			},
			scales:{
				x:{type:'linear',min:X_LIMITS[0],max:X_LIMITS[1],offset:false,
					grid:{display:false,drawTicks:false},border:{display:false},
					afterBuildTicks:s=>{s.ticks=X_TICKS.map(v=>({value:v}))},
					afterFit:s=>{s.height=45},
					ticks:{color:AXIS_COLOUR,font:{family:SANS,size:14},padding:9,maxRotation:0,autoSkip:false},
					title:{display:true,text:'Bus no',color:'#000',font:{family:SERIF,size:15},padding:{top:0,bottom:1}}
				},
				y:{type:'linear',min:Y_LIMITS[0],max:Y_LIMITS[1],
					grid:{display:false,drawTicks:false},border:{display:false},
					afterBuildTicks:s=>{s.ticks=Y_TICKS.map(v=>({value:v}))},
					afterFit:s=>{s.width=60},
					ticks:{color:AXIS_COLOUR,font:{family:SANS,size:14},padding:7,callback:YLabel},
					title:{display:true,text:'Voltage (pu)',color:'#000',font:{family:SERIF,size:15},padding:{top:2,bottom:0}}
				}
			}
		}
	})
}

LoadPanel('P1',TITLES[0],PANELS[0])
LoadPanel('P2',TITLES[1],PANELS[1])
LoadPanel('P3',TITLES[2],PANELS[2])
</script>
</body>
</html>
